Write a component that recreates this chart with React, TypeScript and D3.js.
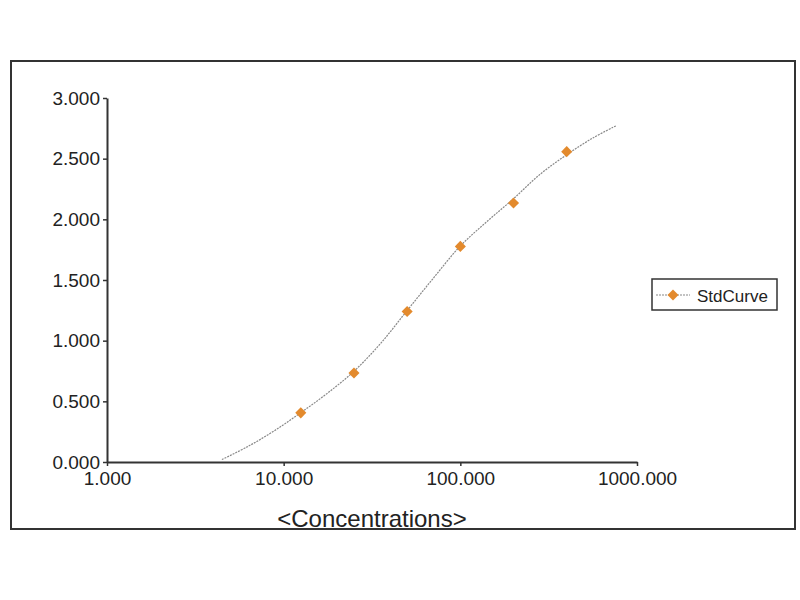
import { useEffect, useRef } from "react";
import * as d3 from "d3";

const width = 800;
const height = 600;
const margin = { top: 98, right: 163, bottom: 138, left: 107 };

// standard points (concentration, OD)
const stdConc = [12.5, 25, 50, 100, 200, 400];
const stdOD = [0.405, 0.733, 1.241, 1.777, 2.135, 2.558];

// fitted curve
const fitConc = [4.47, 6.31, 8.91, 12.6, 17.8, 25.1, 35.5, 50.1, 70.8, 100, 141, 200, 282, 398, 562, 759];
const fitOD = [0.02, 0.13, 0.26, 0.41, 0.57, 0.75, 0.98, 1.25, 1.52, 1.78, 1.98, 2.17, 2.37, 2.53, 2.67, 2.77];

const xTicks = [1, 10, 100, 1000];
const yTicks = [0, 0.5, 1, 1.5, 2, 2.5, 3];
const xTitle = "<Concentrations>";
const seriesName = "StdCurve";

const markerColor = "#e38a2d";
const font = "'Liberation Sans', Arial, sans-serif";

const App = () => {
  const svgRef = useRef<SVGSVGElement>(null);

  useEffect(() => {
    const svg = d3.select(svgRef.current);
    svg.selectAll("*").remove();

    const xScale = d3
      .scaleLog()
      .domain([1, 1000])
      .range([margin.left, width - margin.right]);
    const yScale = d3
      .scaleLinear()
      .domain([0, 3])
      .range([height - margin.bottom, margin.top]);

    // outer frame
    svg
      .append("rect")
      .attr("x", 11)
      .attr("y", 61)
      .attr("width", 784)
      .attr("height", 468)
      .attr("fill", "#fff")
      .attr("stroke", "#333")
      .attr("stroke-width", 2);

    // y-axis
    const yAxis = d3
      .axisLeft(yScale)
      .tickValues(yTicks)
      .tickFormat(d3.format(".3f"))
      .tickSizeInner(4)
      .tickSizeOuter(0)
      .tickPadding(3);
    const gy = svg
      .append("g")
      .attr("transform", `translate(${margin.left},0)`)
      .call(yAxis);

    // x-axis
    const xAxis = d3
      .axisBottom(xScale)
      .tickValues(xTicks)
      .tickFormat(d3.format(".3f"))
      .tickSizeInner(4)
      .tickSizeOuter(0)
      .tickPadding(6);
    const gx = svg
      .append("g")
      .attr("transform", `translate(0,${height - margin.bottom})`)
      .call(xAxis);

    [gx, gy].forEach((g) => {
      g.select(".domain").attr("stroke", "#333").attr("stroke-width", 2);
      g.selectAll(".tick line").attr("stroke", "#333").attr("stroke-width", 1.5);
      g.selectAll(".tick text")
        .attr("fill", "#222")
        .attr("font-family", font)
        .attr("font-size", 19);
    });

    // x title
    svg
      .append("text")
      .attr("x", (xScale(1) + xScale(1000)) / 2)
      .attr("y", 527)
      .attr("text-anchor", "middle")
      .attr("font-family", font)
      .attr("font-size", 24)
      .attr("fill", "#222")
      .text(xTitle);

    // fitted curve
    const line = d3
      .line<number>()
      .x((d) => xScale(d))
      .y((_, i) => yScale(fitOD[i]))
      .curve(d3.curveCatmullRom);

    svg
      .append("path")
      .datum(fitConc)
      .attr("fill", "none")
      .attr("stroke", "#888")
      .attr("stroke-width", 1.2)
      .attr("stroke-dasharray", "2 1")
      .attr("d", line);

    // markers
    const diamond = d3.symbol().type(d3.symbolDiamond2).size(78);
    svg
      .append("g")
      .selectAll("path")
      .data(stdConc)
      .join("path")
      .attr("transform", (d, i) => `translate(${xScale(d)},${yScale(stdOD[i])})`)
      .attr("d", diamond)
      .attr("fill", markerColor);

    // legend
    const lg = svg.append("g").attr("transform", "translate(652,279)");
    lg.append("rect")
      .attr("width", 125)
      .attr("height", 31)
      .attr("fill", "#fff")
      .attr("stroke", "#333")
      .attr("stroke-width", 1.5);
    lg.append("line")
      .attr("x1", 4)
      .attr("x2", 38)
      .attr("y1", 16)
      .attr("y2", 16)
      .attr("stroke", "#888")
      .attr("stroke-width", 1.2)
      .attr("stroke-dasharray", "2 1");
    lg.append("path")
      .attr("transform", "translate(21,16)")
      .attr("d", diamond)
      .attr("fill", markerColor);
    lg.append("text")
      .attr("x", 45)
      .attr("y", 23)
      .attr("font-family", font)
      .attr("font-size", 17)
      .attr("fill", "#222")
      .text(seriesName);
  }, []);

  return (
    <svg
      ref={svgRef}
      width={width}
      height={height}
      style={{ position: "absolute", left: 0, top: 0, background: "#fff" }}
    ></svg>
  );
};

export default App;
